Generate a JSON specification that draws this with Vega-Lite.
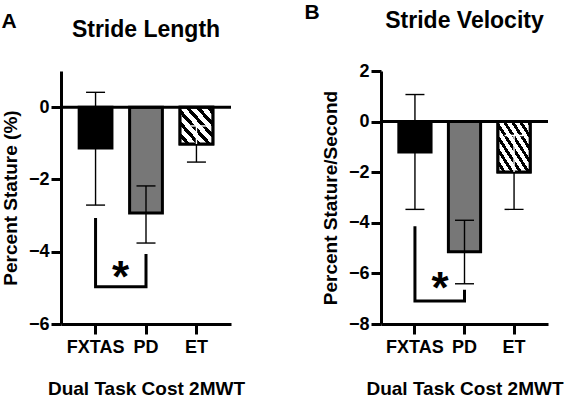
{
  "$schema": "https://vega.github.io/schema/vega-lite/v6.json",
  "padding": {"left": 1, "top": 2, "right": 0, "bottom": 0},
  "background": "white",
  "config": {
    "font": "Liberation Sans",
    "view": {"stroke": null},
    "axis": {
      "grid": false,
      "domainColor": "black",
      "domainWidth": 3,
      "tickColor": "black",
      "tickWidth": 3,
      "tickSize": 10,
      "labelColor": "black",
      "labelFont": "Liberation Sans",
      "labelFontWeight": "bold",
      "labelFontSize": 18,
      "titleColor": "black",
      "titleFont": "Liberation Sans",
      "titleFontWeight": "bold",
      "titleFontSize": 19
    }
  },
  "datasets": {
    "barsA": [
      {"group": "FXTAS", "mean": -1.13, "lower": -2.71, "upper": 0.41},
      {"group": "PD", "mean": -2.93, "lower": -3.76, "upper": -2.18},
      {"group": "ET", "mean": -1.02, "lower": -1.52, "upper": -0.52}
    ],
    "barsB": [
      {"group": "FXTAS", "mean": -1.2, "lower": -3.47, "upper": 1.07},
      {"group": "PD", "mean": -5.14, "lower": -6.41, "upper": -3.9},
      {"group": "ET", "mean": -1.99, "lower": -3.47, "upper": -0.55}
    ],
    "bracketA": [
      {"group": "FXTAS", "value": -3.07, "o": 1},
      {"group": "FXTAS", "value": -4.97, "o": 2},
      {"group": "PD", "value": -4.97, "o": 3},
      {"group": "PD", "value": -4.06, "o": 4}
    ],
    "bracketB": [
      {"group": "FXTAS", "value": -4.14, "o": 1},
      {"group": "FXTAS", "value": -7.09, "o": 2},
      {"group": "PD", "value": -7.09, "o": 3},
      {"group": "PD", "value": -6.65, "o": 4}
    ],
    "starA": [{"group": "FXTAS", "value": -4.75}],
    "starB": [{"group": "FXTAS", "value": -6.65}]
  },
  "spacing": 59,
  "hconcat": [
    {
      "title": {"text": "A", "anchor": "start", "fontSize": 21, "fontWeight": "bold", "color": "black", "offset": -13},
      "vconcat": [
        {
          "width": 170,
          "height": 253,
          "title": {"text": "Stride Length", "fontSize": 23, "fontWeight": "bold", "color": "black", "offset": 29},
          "layer": [
            {
              "data": {"name": "barsA"},
              "mark": {"type": "bar", "stroke": "black", "strokeWidth": 3},
              "encoding": {
                "x": {"field": "group", "type": "nominal", "sort": ["FXTAS", "PD", "ET"], "scale": {"paddingInner": 0.35, "paddingOuter": 0.36}, "title": "Dual Task Cost 2MWT", "axis": {"labelAngle": 0, "labelPadding": 4, "titlePadding": 23}},
                "y": {"field": "mean", "type": "quantitative", "scale": {"domain": [-6, 1], "nice": false}, "title": "Percent Stature (%)", "axis": {"values": [0, -2, -4, -6], "labelPadding": 2, "titlePadding": 8}},
                "fill": {"field": "group", "type": "nominal", "scale": {"domain": ["FXTAS", "PD", "ET"], "range": ["black", "#777777", "white"]}, "legend": null}
              }
            },
            {
              "data": {"name": "barsA"},
              "transform": [{"filter": "datum.group === 'ET'"}],
              "mark": {"type": "bar", "stroke": "black", "strokeWidth": 3, "fill": {"gradient": "linear", "x1": 0, "y1": 1, "x2": 1, "y2": 0, "stops": [
                {"offset": 0, "color": "white"}, {"offset": 0.09, "color": "white"}, {"offset": 0.09, "color": "black"}, {"offset": 0.16, "color": "black"},
                {"offset": 0.16, "color": "white"}, {"offset": 0.25, "color": "white"}, {"offset": 0.25, "color": "black"}, {"offset": 0.32, "color": "black"},
                {"offset": 0.32, "color": "white"}, {"offset": 0.41, "color": "white"}, {"offset": 0.41, "color": "black"}, {"offset": 0.48, "color": "black"},
                {"offset": 0.48, "color": "white"}, {"offset": 0.57, "color": "white"}, {"offset": 0.57, "color": "black"}, {"offset": 0.64, "color": "black"},
                {"offset": 0.64, "color": "white"}, {"offset": 0.73, "color": "white"}, {"offset": 0.73, "color": "black"}, {"offset": 0.8, "color": "black"},
                {"offset": 0.8, "color": "white"}, {"offset": 0.89, "color": "white"}, {"offset": 0.89, "color": "black"}, {"offset": 0.96, "color": "black"},
                {"offset": 0.96, "color": "white"}, {"offset": 1, "color": "white"}
              ]}},
              "encoding": {
                "x": {"field": "group", "type": "nominal", "sort": ["FXTAS", "PD", "ET"], "title": "Dual Task Cost 2MWT"},
                "y": {"field": "mean", "type": "quantitative", "title": "Percent Stature (%)"}
              }
            },
            {
              "data": {"values": [{}]},
              "mark": {"type": "rule", "color": "black", "strokeWidth": 3},
              "encoding": {"y": {"datum": 0}}
            },
            {
              "data": {"name": "barsA"},
              "mark": {"type": "rule", "strokeWidth": 1.4},
              "encoding": {
                "x": {"field": "group", "type": "nominal", "sort": ["FXTAS", "PD", "ET"], "title": "Dual Task Cost 2MWT"},
                "y": {"field": "lower", "type": "quantitative", "title": "Percent Stature (%)"},
                "y2": {"field": "mean"},
                "color": {"value": "black"}
              }
            },
            {
              "data": {"name": "barsA"},
              "mark": {"type": "rule", "strokeWidth": 1.4},
              "encoding": {
                "x": {"field": "group", "type": "nominal", "sort": ["FXTAS", "PD", "ET"], "title": "Dual Task Cost 2MWT"},
                "y": {"field": "upper", "type": "quantitative", "title": "Percent Stature (%)"},
                "y2": {"field": "mean"},
                "color": {"condition": {"test": "datum.group === 'ET'", "value": "white"}, "value": "black"}
              }
            },
            {
              "data": {"name": "barsA"},
              "mark": {"type": "tick", "size": 19, "thickness": 1.4, "opacity": 1},
              "encoding": {
                "x": {"field": "group", "type": "nominal", "sort": ["FXTAS", "PD", "ET"], "title": "Dual Task Cost 2MWT"},
                "y": {"field": "lower", "type": "quantitative", "title": "Percent Stature (%)"},
                "color": {"value": "black"}
              }
            },
            {
              "data": {"name": "barsA"},
              "mark": {"type": "tick", "size": 19, "thickness": 1.4, "opacity": 1},
              "encoding": {
                "x": {"field": "group", "type": "nominal", "sort": ["FXTAS", "PD", "ET"], "title": "Dual Task Cost 2MWT"},
                "y": {"field": "upper", "type": "quantitative", "title": "Percent Stature (%)"},
                "color": {"condition": {"test": "datum.group === 'ET'", "value": "white"}, "value": "black"}
              }
            },
            {
              "data": {"name": "bracketA"},
              "mark": {"type": "line", "color": "black", "strokeWidth": 3, "strokeJoin": "miter", "strokeCap": "butt"},
              "encoding": {
                "x": {"field": "group", "type": "nominal", "sort": ["FXTAS", "PD", "ET"], "title": "Dual Task Cost 2MWT"},
                "y": {"field": "value", "type": "quantitative", "title": "Percent Stature (%)"},
                "order": {"field": "o", "type": "quantitative"}
              }
            },
            {
              "data": {"name": "starA"},
              "mark": {"type": "text", "text": "*", "fontSize": 44, "fontWeight": "bold", "dx": 25, "baseline": "middle", "color": "black"},
              "encoding": {
                "x": {"field": "group", "type": "nominal", "sort": ["FXTAS", "PD", "ET"], "title": "Dual Task Cost 2MWT"},
                "y": {"field": "value", "type": "quantitative", "title": "Percent Stature (%)"}
              }
            }
          ]
        }
      ]
    },
    {
      "title": {"text": "B", "anchor": "start", "fontSize": 21, "fontWeight": "bold", "color": "black", "offset": -13, "dx": -17},
      "vconcat": [
        {
          "width": 167,
          "height": 253,
          "title": {"text": "Stride Velocity", "fontSize": 23, "fontWeight": "bold", "color": "black", "offset": 29},
          "layer": [
            {
              "data": {"name": "barsB"},
              "mark": {"type": "bar", "stroke": "black", "strokeWidth": 3},
              "encoding": {
                "x": {"field": "group", "type": "nominal", "sort": ["FXTAS", "PD", "ET"], "scale": {"paddingInner": 0.35, "paddingOuter": 0.36}, "title": "Dual Task Cost 2MWT", "axis": {"labelAngle": 0, "labelPadding": 4, "titlePadding": 23}},
                "y": {"field": "mean", "type": "quantitative", "scale": {"domain": [-8, 2], "nice": false}, "title": "Percent Stature/Second", "axis": {"values": [2, 0, -2, -4, -6, -8], "labelPadding": 2, "titlePadding": 8}},
                "fill": {"field": "group", "type": "nominal", "scale": {"domain": ["FXTAS", "PD", "ET"], "range": ["black", "#777777", "white"]}, "legend": null}
              }
            },
            {
              "data": {"name": "barsB"},
              "transform": [{"filter": "datum.group === 'ET'"}],
              "mark": {"type": "bar", "stroke": "black", "strokeWidth": 3, "fill": {"gradient": "linear", "x1": 0, "y1": 1, "x2": 1, "y2": 0, "stops": [
                {"offset": 0, "color": "white"}, {"offset": 0.07, "color": "white"}, {"offset": 0.07, "color": "black"}, {"offset": 0.125, "color": "black"},
                {"offset": 0.125, "color": "white"}, {"offset": 0.195, "color": "white"}, {"offset": 0.195, "color": "black"}, {"offset": 0.25, "color": "black"},
                {"offset": 0.25, "color": "white"}, {"offset": 0.32, "color": "white"}, {"offset": 0.32, "color": "black"}, {"offset": 0.375, "color": "black"},
                {"offset": 0.375, "color": "white"}, {"offset": 0.445, "color": "white"}, {"offset": 0.445, "color": "black"}, {"offset": 0.5, "color": "black"},
                {"offset": 0.5, "color": "white"}, {"offset": 0.57, "color": "white"}, {"offset": 0.57, "color": "black"}, {"offset": 0.625, "color": "black"},
                {"offset": 0.625, "color": "white"}, {"offset": 0.695, "color": "white"}, {"offset": 0.695, "color": "black"}, {"offset": 0.75, "color": "black"},
                {"offset": 0.75, "color": "white"}, {"offset": 0.82, "color": "white"}, {"offset": 0.82, "color": "black"}, {"offset": 0.875, "color": "black"},
                {"offset": 0.875, "color": "white"}, {"offset": 0.945, "color": "white"}, {"offset": 0.945, "color": "black"}, {"offset": 1, "color": "black"}
              ]}},
              "encoding": {
                "x": {"field": "group", "type": "nominal", "sort": ["FXTAS", "PD", "ET"], "title": "Dual Task Cost 2MWT"},
                "y": {"field": "mean", "type": "quantitative", "title": "Percent Stature/Second"}
              }
            },
            {
              "data": {"values": [{}]},
              "mark": {"type": "rule", "color": "black", "strokeWidth": 3},
              "encoding": {"y": {"datum": 0}}
            },
            {
              "data": {"name": "barsB"},
              "mark": {"type": "rule", "strokeWidth": 1.4},
              "encoding": {
                "x": {"field": "group", "type": "nominal", "sort": ["FXTAS", "PD", "ET"], "title": "Dual Task Cost 2MWT"},
                "y": {"field": "lower", "type": "quantitative", "title": "Percent Stature/Second"},
                "y2": {"field": "mean"},
                "color": {"value": "black"}
              }
            },
            {
              "data": {"name": "barsB"},
              "mark": {"type": "rule", "strokeWidth": 1.4},
              "encoding": {
                "x": {"field": "group", "type": "nominal", "sort": ["FXTAS", "PD", "ET"], "title": "Dual Task Cost 2MWT"},
                "y": {"field": "upper", "type": "quantitative", "title": "Percent Stature/Second"},
                "y2": {"field": "mean"},
                "color": {"condition": {"test": "datum.group === 'ET'", "value": "white"}, "value": "black"}
              }
            },
            {
              "data": {"name": "barsB"},
              "mark": {"type": "tick", "size": 19, "thickness": 1.4, "opacity": 1},
              "encoding": {
                "x": {"field": "group", "type": "nominal", "sort": ["FXTAS", "PD", "ET"], "title": "Dual Task Cost 2MWT"},
                "y": {"field": "lower", "type": "quantitative", "title": "Percent Stature/Second"},
                "color": {"value": "black"}
              }
            },
            {
              "data": {"name": "barsB"},
              "mark": {"type": "tick", "size": 19, "thickness": 1.4, "opacity": 1},
              "encoding": {
                "x": {"field": "group", "type": "nominal", "sort": ["FXTAS", "PD", "ET"], "title": "Dual Task Cost 2MWT"},
                "y": {"field": "upper", "type": "quantitative", "title": "Percent Stature/Second"},
                "color": {"condition": {"test": "datum.group === 'ET'", "value": "white"}, "value": "black"}
              }
            },
            {
              "data": {"name": "bracketB"},
              "mark": {"type": "line", "color": "black", "strokeWidth": 3, "strokeJoin": "miter", "strokeCap": "butt"},
              "encoding": {
                "x": {"field": "group", "type": "nominal", "sort": ["FXTAS", "PD", "ET"], "title": "Dual Task Cost 2MWT"},
                "y": {"field": "value", "type": "quantitative", "title": "Percent Stature/Second"},
                "order": {"field": "o", "type": "quantitative"}
              }
            },
            {
              "data": {"name": "starB"},
              "mark": {"type": "text", "text": "*", "fontSize": 44, "fontWeight": "bold", "dx": 25, "baseline": "middle", "color": "black"},
              "encoding": {
                "x": {"field": "group", "type": "nominal", "sort": ["FXTAS", "PD", "ET"], "title": "Dual Task Cost 2MWT"},
                "y": {"field": "value", "type": "quantitative", "title": "Percent Stature/Second"}
              }
            }
          ]
        }
      ]
    }
  ]
}
